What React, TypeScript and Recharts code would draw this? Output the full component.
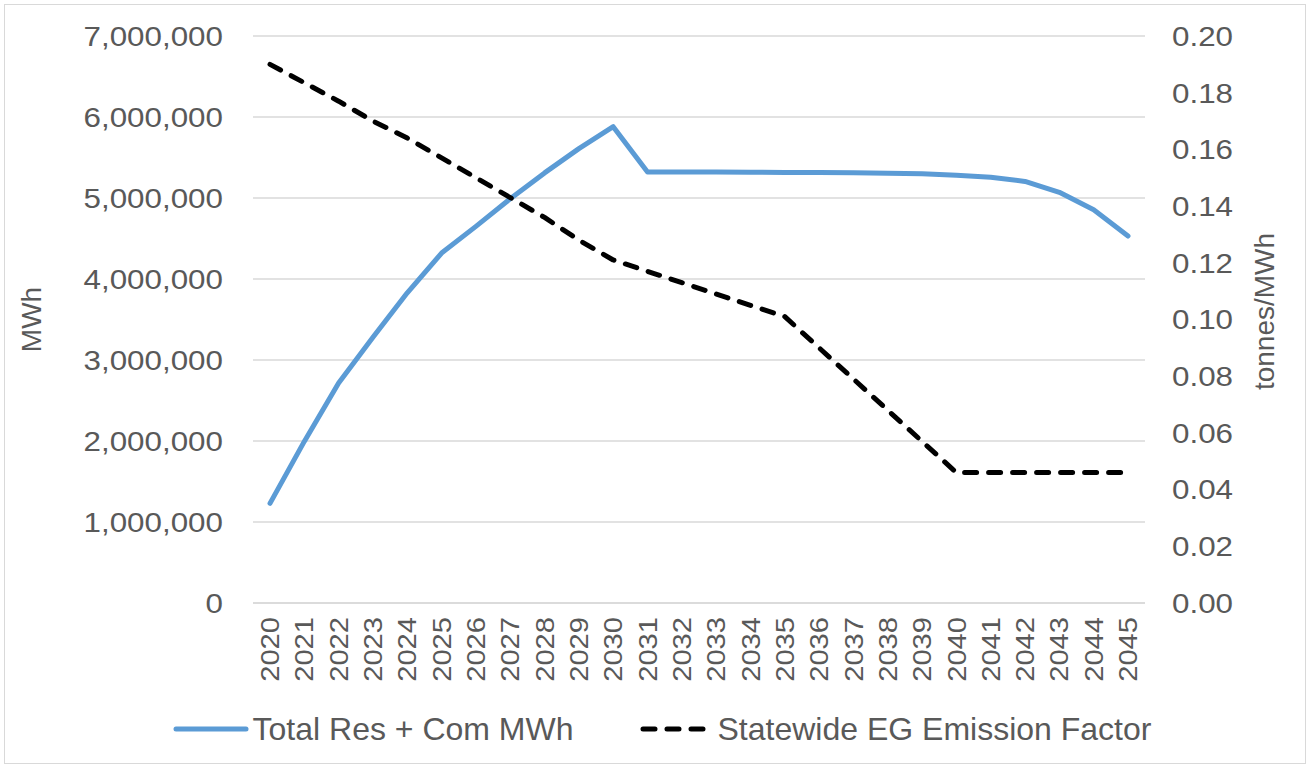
import { CartesianGrid, Label, Legend, Line, LineChart, XAxis, YAxis } from 'recharts';

const years = [
  '2020', '2021', '2022', '2023', '2024', '2025', '2026', '2027', '2028',
  '2029', '2030', '2031', '2032', '2033', '2034', '2035', '2036', '2037',
  '2038', '2039', '2040', '2041', '2042', '2043', '2044', '2045',
];

const totalResComMwh = [
  1230000, 1995000, 2715000, 3280000, 3830000, 4320000, 4650000, 4990000, 5310000,
  5610000, 5880000, 5320000, 5320000, 5320000, 5318000, 5316000, 5314000, 5311000,
  5307000, 5300000, 5280000, 5255000, 5205000, 5070000, 4855000, 4530000,
];

const emissionFactor = [
  0.19, 0.1835, 0.177, 0.17, 0.164, 0.157, 0.15, 0.143, 0.136,
  0.128, 0.121, 0.117, 0.113, 0.109, 0.105, 0.101, 0.09, 0.079,
  0.068, 0.057, 0.046, 0.046, 0.046, 0.046, 0.046, 0.046,
];

const mwhTicks = [0, 1000000, 2000000, 3000000, 4000000, 5000000, 6000000, 7000000];
const factorTicks = [0, 0.02, 0.04, 0.06, 0.08, 0.1, 0.12, 0.14, 0.16, 0.18, 0.2];

const data = years.map((year, i) => ({
  year,
  mwh: totalResComMwh[i],
  factor: emissionFactor[i],
}));

const FONT = "'Liberation Sans', Arial, sans-serif";
const TEXT = '#595959';
const BLUE = '#5B9BD5';
const GRID = '#d9d9d9';

const LeftTick = ({ x, y, payload }: any) => (
  <text
    transform={`translate(${x},${y}) scale(1.12,1)`}
    textAnchor='end'
    dy='0.35em'
    fill={TEXT}
    fontSize={28}
    fontFamily={FONT}
  >
    {Number(payload.value).toLocaleString('en-US')}
  </text>
);

const RightTick = ({ x, y, payload }: any) => (
  <text
    transform={`translate(${x},${y}) scale(1.12,1)`}
    textAnchor='start'
    dy='0.35em'
    fill={TEXT}
    fontSize={28}
    fontFamily={FONT}
  >
    {Number(payload.value).toFixed(2)}
  </text>
);

const YearTick = ({ x, y, payload }: any) => (
  <text
    transform={`translate(${x},${y}) rotate(-90) scale(1.12,1)`}
    textAnchor='end'
    dy='0.35em'
    fill={TEXT}
    fontSize={26}
    fontFamily={FONT}
  >
    {payload.value}
  </text>
);

// rotated axis title, placed relative to the axis box
const axisTitle = (text: string, dx: number, dy = 0) => (props: any) => {
  const { x, y, height } = props.viewBox;
  const cx = x + dx;
  const cy = y + height / 2 + dy;
  return (
    <text
      x={cx}
      y={cy}
      transform={`rotate(-90,${cx},${cy})`}
      textAnchor='middle'
      dy='0.35em'
      fill={TEXT}
      fontSize={28}
      fontFamily={FONT}
    >
      {text}
    </text>
  );
};

const ChartLegend = () => (
  <div
    style={{
      display: 'flex',
      alignItems: 'center',
      justifyContent: 'center',
      height: 60,
      paddingLeft: 14,
      fontFamily: FONT,
      fontSize: 32,
      color: TEXT,
    }}
  >
    <svg width={76} height={10} style={{ marginRight: 4 }}>
      <line x1={3} y1={5} x2={73} y2={5} stroke={BLUE} strokeWidth={5} strokeLinecap='round' />
    </svg>
    <span>Total Res + Com MWh</span>
    <svg width={76} height={10} style={{ marginLeft: 64, marginRight: 4 }}>
      <line
        x1={5}
        y1={5}
        x2={71}
        y2={5}
        stroke='#000'
        strokeWidth={5}
        strokeLinecap='round'
        strokeDasharray='12 12'
      />
    </svg>
    <span>Statewide EG Emission Factor</span>
  </div>
);

export default function App() {
  return (
    <div style={{ position: 'absolute', left: 0, top: 0, width: 1310, height: 768, background: '#fff' }}>
      <div
        style={{
          position: 'absolute',
          left: 4,
          top: 4,
          width: 1300,
          height: 758,
          border: `1px solid ${GRID}`,
        }}
      />
      <LineChart
        width={1310}
        height={768}
        data={data}
        margin={{ top: 36, right: 0, bottom: 9, left: 0 }}
      >
        <CartesianGrid
          yAxisId='left'
          vertical={false}
          stroke={GRID}
          strokeWidth={1.5}
        />
        <XAxis
          dataKey='year'
          height={96}
          interval={0}
          padding={{ left: 17, right: 17 }}
          axisLine={{ stroke: GRID, strokeWidth: 1.5 }}
          tickLine={false}
          tickSize={0}
          tickMargin={14}
          tick={<YearTick />}
        />
        <YAxis
          yAxisId='left'
          width={253}
          domain={[0, 7000000]}
          ticks={mwhTicks}
          axisLine={false}
          tickLine={false}
          tickSize={0}
          tickMargin={30}
          tick={<LeftTick />}
        >
          <Label content={axisTitle('MWh', 31)} />
        </YAxis>
        <YAxis
          yAxisId='right'
          orientation='right'
          width={165}
          domain={[0, 0.2]}
          ticks={factorTicks}
          axisLine={false}
          tickLine={false}
          tickSize={0}
          tickMargin={27}
          tick={<RightTick />}
        >
          <Label content={axisTitle('tonnes/MWh', 119, -8)} />
        </YAxis>
        <Legend verticalAlign='bottom' height={60} content={<ChartLegend />} />
        <Line
          yAxisId='left'
          type='linear'
          dataKey='mwh'
          name='Total Res + Com MWh'
          stroke={BLUE}
          strokeWidth={5}
          strokeLinecap='round'
          strokeLinejoin='round'
          dot={false}
          activeDot={false}
          isAnimationActive={false}
        />
        <Line
          yAxisId='right'
          type='linear'
          dataKey='factor'
          name='Statewide EG Emission Factor'
          stroke='#000'
          strokeWidth={5}
          strokeDasharray='12 12'
          strokeLinecap='round'
          strokeLinejoin='round'
          dot={false}
          activeDot={false}
          isAnimationActive={false}
        />
      </LineChart>
    </div>
  );
}
